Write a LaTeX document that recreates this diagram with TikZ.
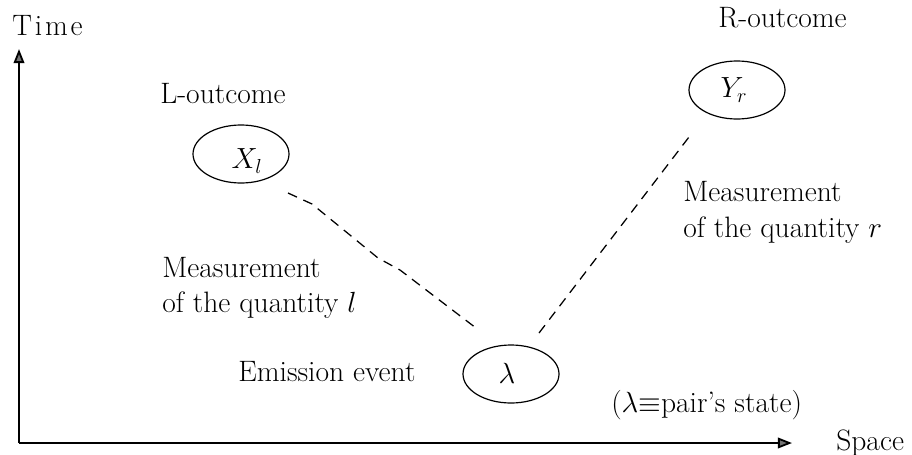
\documentclass[tikz,border=0pt]{standalone}
\usepackage{fontspec}
\usetikzlibrary{arrows.meta,shapes.geometric}
\begin{document}
\begin{tikzpicture}[x=0.025cm,y=-0.025cm,
  lbl/.style={font=\fontsize{21}{25}\selectfont, inner sep=0pt, anchor=base west},
  ev/.style={draw, ellipse, line width=0.85pt, minimum width=96*0.025cm, minimum height=58*0.025cm, inner sep=0pt},
  evtext/.style={font=\fontsize{21}{25}\selectfont, inner sep=0pt},
  meas/.style={line width=0.9pt, dash pattern=on 7pt off 5pt},
  axis/.style={line width=1.3pt, -{Triangle[length=10pt,width=7.5pt,fill=black!55]}}]
\useasboundingbox (0,0) rectangle (912,454);
\coordinate (O) at (19,443);
\coordinate (T) at (19,49);
\coordinate (S) at (792,443);
\draw[axis] (O) -- (T);
\draw[axis] (O) -- (S);
\node[lbl] (time) at (12,35) {T\kern2pt i\kern2pt m\kern2pt e};
\node[lbl] (space) at (836,450) {Space};
\node[lbl] (lout) at (160,103) {L-outcome};
\node[ev] (X) at (241,154) {};
\node[evtext] (Xt) at (247,161) {$X_l$};
\node[lbl] (rout) at (718,27) {R-outcome};
\node[ev] (Y) at (737,90) {};
\node[evtext] (Yt) at (734,90) {$Y_r$};
\node[ev] (lam) at (511,374) {};
\node[evtext] (lamt) at (507,373) {$\lambda$};
\node[lbl] (emis) at (238,381) {Emission event};
\node[lbl] (state) at (611,412) {(${\lambda}{\equiv}$pair's state)};
\node[lbl] (ml1) at (162,277) {Measurement};
\node[lbl] (ml2) at (162,312) {of the quantity $l$};
\node[lbl] (mr1) at (683,201) {Measurement};
\node[lbl] (mr2) at (683,237) {of the quantity $r$};
\coordinate (l1) at (288,193);
\coordinate (l2) at (312,204);
\coordinate (l3) at (378,258);
\coordinate (l4) at (400,270);
\coordinate (l5) at (476,328);
\coordinate (r1) at (539,333);
\coordinate (r2) at (689,137);
\draw[meas] (l1) -- (l2) -- (l3) -- (l4) -- (l5);
\draw[meas] (r1) -- (r2);
\end{tikzpicture}
\end{document}
